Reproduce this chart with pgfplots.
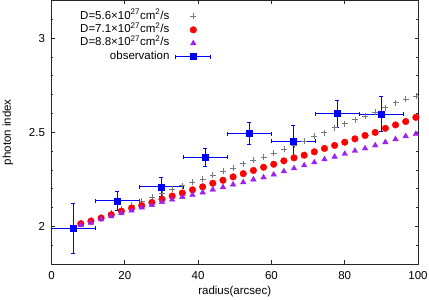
\documentclass[border=0pt]{standalone}
\usepackage{pgfplots}
\pgfplotsset{compat=1.18}
\usepackage{pgfplotstable}
\usepackage{fontspec}
\setmainfont{Liberation Sans}
\definecolor{crossgray}{RGB}{120,120,120}
\definecolor{mypurple}{RGB}{160,32,240}

\pgfplotsset{
  marklegend/.style={legend image code/.code={\draw[mark repeat=2,mark phase=2,##1] plot coordinates {(0pt,0pt) (17.5pt,0pt) (35pt,0pt)};}},
  obslegend/.style={legend image code/.code={\draw[blue, line width=0.8pt] (0pt,0pt) -- (35pt,0pt);
     \draw[blue, line width=0.8pt] (0pt,-2pt) -- (0pt,2pt);
     \draw[blue, line width=0.8pt] (35pt,-2pt) -- (35pt,2pt);
     \draw[mark repeat=2,mark phase=2,##1] plot coordinates {(0pt,0pt) (17.5pt,0pt) (35pt,0pt)};}},
}

\pgfplotstableread{
x y
8.00 2.018
10.77 2.034
13.54 2.052
16.31 2.072
19.08 2.093
21.85 2.112
24.62 2.133
27.39 2.155
30.16 2.176
32.93 2.196
35.70 2.217
38.47 2.234
41.24 2.252
44.01 2.273
46.78 2.293
49.55 2.310
52.32 2.333
55.09 2.350
57.86 2.369
60.63 2.390
63.40 2.412
66.17 2.433
68.94 2.454
71.71 2.479
74.48 2.498
77.25 2.525
80.02 2.546
82.79 2.567
85.56 2.585
88.33 2.606
91.10 2.631
93.87 2.657
96.64 2.675
99.41 2.690
}\crosstab

\pgfplotstableread{
x y
8.00 2.014
10.77 2.028
13.54 2.044
16.31 2.062
19.08 2.081
21.85 2.097
24.62 2.110
27.39 2.127
30.16 2.144
32.93 2.161
35.70 2.177
38.47 2.194
41.24 2.210
44.01 2.229
46.78 2.245
49.55 2.263
52.32 2.280
55.09 2.297
57.86 2.314
60.63 2.330
63.40 2.348
66.17 2.364
68.94 2.378
71.71 2.396
74.48 2.414
77.25 2.430
80.02 2.447
82.79 2.465
85.56 2.483
88.33 2.499
91.10 2.521
93.87 2.539
96.64 2.557
99.41 2.579
}\redtab

\pgfplotstableread{
x y
8.00 2.007
10.77 2.019
13.54 2.037
16.31 2.053
19.08 2.070
21.85 2.084
24.62 2.100
27.39 2.113
30.16 2.129
32.93 2.142
35.70 2.156
38.47 2.167
41.24 2.180
44.01 2.195
46.78 2.208
49.55 2.222
52.32 2.234
55.09 2.249
57.86 2.260
60.63 2.275
63.40 2.292
66.17 2.308
68.94 2.324
71.71 2.340
74.48 2.356
77.25 2.370
80.02 2.385
82.79 2.401
85.56 2.414
88.33 2.430
91.10 2.447
93.87 2.463
96.64 2.479
99.41 2.491
}\purtab

\pgfplotstableread{
x y ex ey
6 1.989 6 0.133
18 2.136 6 0.051
30 2.210 6 0.050
42 2.366 6 0.050
54 2.493 6 0.057
66 2.453 6 0.082
78 2.599 6 0.072
90 2.597 6 0.094
}\obstab

\begin{document}
\begin{tikzpicture}
\path[use as bounding box] (-51.5pt,-36pt) rectangle (377.5pt,264pt);
\begin{axis}[
  at={(0,0)}, anchor=south west,
  scale only axis, width=366.5pt, height=263.5pt,
  font=\fontsize{11.5}{13.5}\selectfont,
  /pgf/number format/assume math mode=true,
  xmin=0, xmax=100, ymin=1.8, ymax=3.2,
  xtick={0,20,40,60,80,100},
  ytick={2,2.5,3},
  minor ytick={1.9,2.1,2.2,2.3,2.4,2.6,2.7,2.8,2.9,3.1},
  tick align=inside,
  major tick length=3.5pt, minor tick length=2pt,
  axis line style={black!85, line width=0.8pt},
  tick style={black!85, line width=0.6pt},
  xticklabel style={yshift=-3.5pt},
  yticklabel style={xshift=-3pt},
  xlabel={radius(arcsec)}, ylabel={photon index},
  xlabel style={at={(axis description cs:0.5,0)}, anchor=center, yshift=-28pt},
  ylabel style={at={(axis description cs:0,0.5)}, anchor=center, yshift=43.5pt},
  legend plot pos=right,
  legend cell align=right,
  legend style={draw=none, fill=none, at={(axis description cs:0,1)}, anchor=north west,
    xshift=24.5pt, yshift=-7.5pt, row sep=0.9pt, column sep=5pt,
    nodes={inner sep=1pt, text height=8pt, text depth=2.5pt}},
]
\addplot[only marks, mark=+, mark size=3pt, color=crossgray, line width=0.6pt, marklegend]
  table[x=x,y=y] {\crosstab};
\addlegendentry{D=5.6×10\textsuperscript{27}cm\textsuperscript{2}/s}
\addplot[only marks, mark=*, mark size=3.3pt, color=red, marklegend]
  table[x=x,y=y] {\redtab};
\addlegendentry{D=7.1×10\textsuperscript{27}cm\textsuperscript{2}/s}
\addplot[only marks, mark=triangle*, mark size=3.2pt, color=mypurple, marklegend]
  table[x=x,y=y] {\purtab};
\addlegendentry{D=8.8×10\textsuperscript{27}cm\textsuperscript{2}/s}
\addplot[only marks, mark=square*, mark size=3pt, color=blue, obslegend,
  error bars/.cd, x dir=both, x explicit, y dir=both, y explicit,
  error bar style={blue, line width=0.8pt},
  error mark options={rotate=90, blue, mark size=2pt, line width=0.8pt}]
  table[x=x,y=y,x error=ex,y error=ey] {\obstab};
\addlegendentry{observation}
\end{axis}
\end{tikzpicture}
\end{document}
